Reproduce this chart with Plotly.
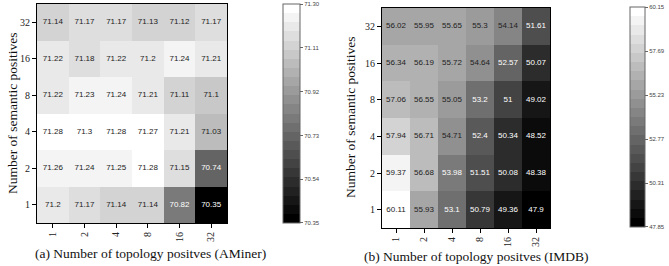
import plotly.graph_objects as go

# ---------------- data ----------------
topo_labels = ["1", "2", "4", "8", "16", "32"]
sem_labels = ["1", "2", "4", "8", "16", "32"]  # bottom -> top

aminer_values = [
    [71.2, 71.17, 71.14, 71.14, 70.82, 70.35],   # sem = 1
    [71.26, 71.24, 71.25, 71.28, 71.15, 70.74],  # sem = 2
    [71.28, 71.3, 71.28, 71.27, 71.21, 71.03],   # sem = 4
    [71.22, 71.23, 71.24, 71.21, 71.11, 71.1],   # sem = 8
    [71.22, 71.18, 71.22, 71.2, 71.24, 71.21],   # sem = 16
    [71.14, 71.17, 71.17, 71.13, 71.12, 71.17],  # sem = 32
]
imdb_values = [
    [60.11, 55.93, 53.1, 50.79, 49.36, 47.9],
    [59.37, 56.68, 53.98, 51.51, 50.08, 48.38],
    [57.94, 56.71, 54.71, 52.4, 50.34, 48.52],
    [57.06, 56.55, 55.05, 53.2, 51, 49.02],
    [56.34, 56.19, 55.72, 54.64, 52.57, 50.07],
    [56.02, 55.95, 55.65, 55.3, 54.14, 51.61],
]
aminer_cbar_ticks = [70.35, 70.54, 70.73, 70.92, 71.11, 71.30]
imdb_cbar_ticks = [47.85, 50.31, 52.77, 55.23, 57.69, 60.15]

caption_a = "(a) Number of topology positves (AMiner)"
caption_b = "(b) Number of topology positves (IMDB)"
ytitle = "Number of semantic positives"

# ---------------- styling ----------------
W, H = 669, 266
SERIF = "Liberation Serif"
SANS = "Liberation Sans"

def px_x(v):
    return v / W

def px_y(v):
    return 1 - v / H

# stepped grey colour scale (black -> white)
N = 24
cs = []
for i in range(N):
    g = int(round(255 * i / (N - 1)))
    c = f"rgb({g},{g},{g})"
    cs.append([i / N, c])
    cs.append([(i + 1) / N, c])

fig = go.Figure()

panels = [
    dict(vals=aminer_values, ticks=aminer_cbar_ticks, xa="x", ya="y",
         cb=(283, 17, 4, 219)),
    dict(vals=imdb_values, ticks=imdb_cbar_ticks, xa="x2", ya="y2",
         cb=(630, 15, 7, 220)),
]

for p in panels:
    zmin, zmax = p["ticks"][0], p["ticks"][-1]
    span = zmax - zmin
    # nudge edge ticks a hair inside the range so they are not dropped
    tv = [min(max(t, zmin + span * 1e-4), zmax - span * 1e-4) for t in p["ticks"]]
    cbx, cbth, cby, cblen = p["cb"]
    fig.add_trace(go.Heatmap(
        z=p["vals"], x=topo_labels, y=sem_labels,
        xaxis=p["xa"], yaxis=p["ya"],
        zmin=zmin, zmax=zmax, colorscale=cs,
        xgap=0, ygap=0, hoverinfo="skip",
        colorbar=dict(
            x=px_x(cbx), xanchor="left", y=px_y(cby), yanchor="top",
            thickness=cbth, thicknessmode="pixels",
            len=cblen, lenmode="pixels", xpad=0, ypad=0,
            outlinewidth=1, outlinecolor="#666",
            tickvals=tv, ticktext=[f"{t:.2f}" for t in p["ticks"]],
            ticks="outside", ticklen=3, tickcolor="#666", tickwidth=1,
            tickfont=dict(family=SANS, size=6, color="#444"),
        ),
    ))
    mid = (zmin + zmax) / 2
    xs, ys, txt, cols = [], [], [], []
    for r, row in enumerate(p["vals"]):
        for c, v in enumerate(row):
            xs.append(topo_labels[c])
            ys.append(sem_labels[r])
            txt.append(f"{v:g}")
            cols.append("#ffffff" if v <= mid else "#222222")
    fig.add_trace(go.Scatter(
        x=xs, y=ys, text=txt, mode="text", xaxis=p["xa"], yaxis=p["ya"],
        textfont=dict(family=SANS, size=8, color=cols),
        showlegend=False, hoverinfo="skip",
    ))

axis_common = dict(
    type="category", showline=True, linecolor="black", linewidth=1, mirror=True,
    ticks="outside", ticklen=4, tickcolor="black", showgrid=False, zeroline=False,
    tickfont=dict(family=SERIF, size=10, color="#222"),
)

fig.update_layout(
    width=W, height=H, margin=dict(l=0, r=0, t=0, b=0),
    paper_bgcolor="white", plot_bgcolor="white", showlegend=False,
    xaxis=dict(domain=[px_x(37), px_x(227)], anchor="y", tickangle=-90, **axis_common),
    yaxis=dict(domain=[px_y(223), px_y(4)], anchor="x", **axis_common),
    xaxis2=dict(domain=[px_x(382), px_x(550)], anchor="y2", tickangle=-90, **axis_common),
    yaxis2=dict(domain=[px_y(228), px_y(8)], anchor="x2", **axis_common),
)

annots = [
    dict(x=px_x(150), y=px_y(253), text=caption_a, textangle=0, size=13.5),
    dict(x=px_x(477), y=px_y(256), text=caption_b, textangle=0, size=13.5),
    dict(x=px_x(12), y=px_y(113), text=ytitle, textangle=-90, size=13.5),
    dict(x=px_x(350), y=px_y(117), text=ytitle, textangle=-90, size=13.5),
]
for a in annots:
    fig.add_annotation(
        x=a["x"], y=a["y"], xref="paper", yref="paper", text=a["text"],
        textangle=a["textangle"], showarrow=False, xanchor="center", yanchor="middle",
        font=dict(family=SERIF, size=a["size"], color="#111"),
    )

fig.write_html("out.html", config={"displayModeBar": False})

# remove the default page margin so the figure sits at the window's corner
with open("out.html", "r", encoding="utf-8") as f:
    html = f.read()
html = html.replace("<body>", '<body style="margin:0;padding:0;">', 1)
with open("out.html", "w", encoding="utf-8") as f:
    f.write(html)
